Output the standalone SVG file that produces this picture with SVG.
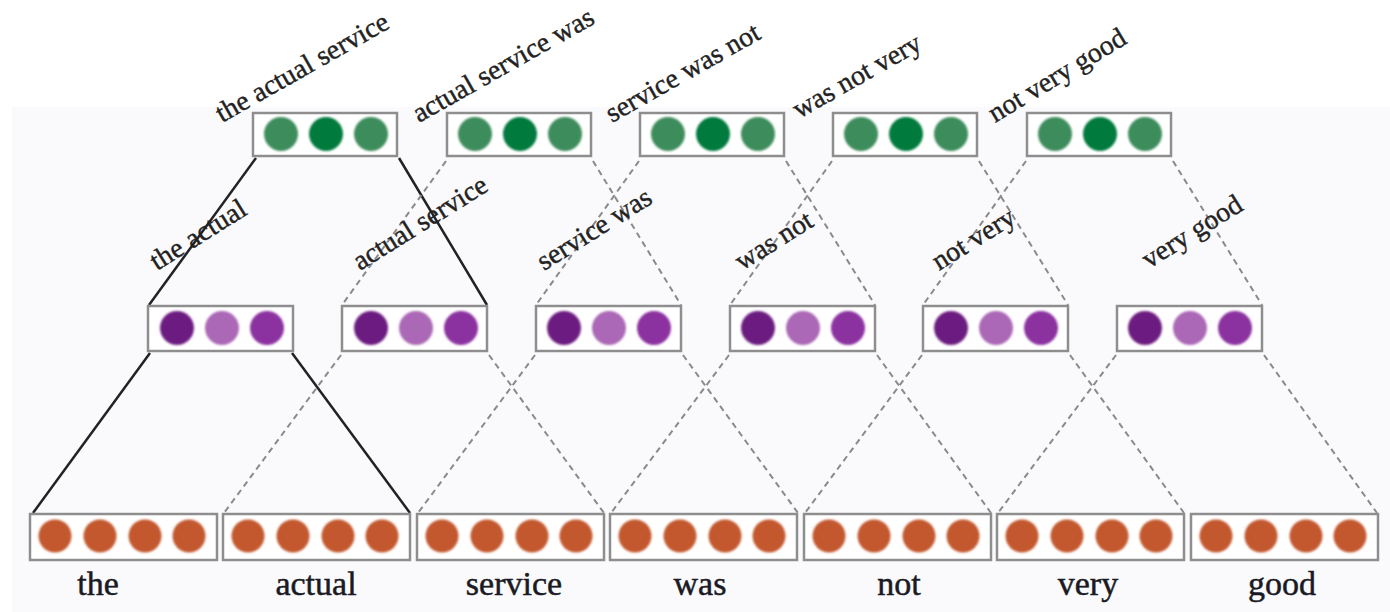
<svg xmlns="http://www.w3.org/2000/svg" width="1390" height="612" viewBox="0 0 1390 612">
<defs>
<style>
.box{fill:#ffffff;stroke:#8e8e8e;stroke-width:2.5}
.g1{fill:#3e8c5c}.g2{fill:#007a3e}
.p1{fill:#6c1f80}.p2{fill:#ab68b6}.p3{fill:#8b33a0}
.o{fill:#c3582f}
.solid{stroke:#222;stroke-width:2.5;fill:none}
.dash{stroke:#8a8a8a;stroke-width:2;stroke-dasharray:6 4.5;fill:none}
.lbl{font-family:"Liberation Serif",serif;font-size:28px;fill:#222;stroke:#222;stroke-width:0.4}
.word{font-family:"Liberation Serif",serif;font-size:34px;fill:#1a1a24;stroke:#1a1a24;stroke-width:0.5;text-anchor:middle}
</style>
<filter id="soft" x="-20%" y="-20%" width="140%" height="140%"><feGaussianBlur stdDeviation="0.8"/></filter>
</defs>
<rect x="0" y="0" width="1390" height="612" fill="#ffffff"/>
<rect x="12" y="107" width="1378" height="505" fill="#fafafc"/>

<g id="connectors">
<line class="solid" x1="256" y1="158" x2="149" y2="305"/>
<line class="solid" x1="399" y1="158" x2="487" y2="305"/>
<line class="dash" x1="446" y1="161" x2="342" y2="305"/>
<line class="dash" x1="593" y1="161" x2="681" y2="305"/>
<line class="dash" x1="639" y1="161" x2="536" y2="305"/>
<line class="dash" x1="786" y1="161" x2="875" y2="305"/>
<line class="dash" x1="832" y1="161" x2="730" y2="305"/>
<line class="dash" x1="979" y1="161" x2="1068" y2="305"/>
<line class="dash" x1="1026" y1="161" x2="923" y2="305"/>
<line class="dash" x1="1173" y1="161" x2="1262" y2="305"/>

<line class="solid" x1="150" y1="353" x2="33" y2="513"/>
<line class="solid" x1="292" y1="353" x2="410" y2="513"/>
<line class="dash" x1="341" y1="355" x2="224" y2="513"/>
<line class="dash" x1="489" y1="355" x2="604" y2="513"/>
<line class="dash" x1="535" y1="355" x2="418" y2="513"/>
<line class="dash" x1="683" y1="355" x2="798" y2="513"/>
<line class="dash" x1="729" y1="355" x2="611" y2="513"/>
<line class="dash" x1="877" y1="355" x2="991" y2="513"/>
<line class="dash" x1="922" y1="355" x2="805" y2="513"/>
<line class="dash" x1="1070" y1="355" x2="1184" y2="513"/>
<line class="dash" x1="1116" y1="355" x2="998" y2="513"/>
<line class="dash" x1="1264" y1="355" x2="1377" y2="513"/>
</g>

<!-- top row -->
<g id="t1"><rect class="box" x="253" y="113" width="144" height="43"/><g filter="url(#soft)"><circle class="g1" cx="281" cy="134" r="17"/><circle class="g2" cx="326" cy="134" r="17"/><circle class="g1" cx="371" cy="134" r="17"/></g><text class="lbl" transform="translate(222,123) rotate(-29.5)">the actual service</text></g>
<g id="t2"><rect class="box" x="447" y="113" width="144" height="43"/><g filter="url(#soft)"><circle class="g1" cx="475" cy="134" r="17"/><circle class="g2" cx="520" cy="134" r="17"/><circle class="g1" cx="565" cy="134" r="17"/></g><text class="lbl" transform="translate(419,123) rotate(-29.5)">actual service was</text></g>
<g id="t3"><rect class="box" x="640" y="113" width="144" height="43"/><g filter="url(#soft)"><circle class="g1" cx="668" cy="134" r="17"/><circle class="g2" cx="713" cy="134" r="17"/><circle class="g1" cx="758" cy="134" r="17"/></g><text class="lbl" transform="translate(612,123) rotate(-29.5)">service was not</text></g>
<g id="t4"><rect class="box" x="833" y="113" width="144" height="43"/><g filter="url(#soft)"><circle class="g1" cx="861" cy="134" r="17"/><circle class="g2" cx="906" cy="134" r="17"/><circle class="g1" cx="951" cy="134" r="17"/></g><text class="lbl" transform="translate(799,119) rotate(-29.5)">was not very</text></g>
<g id="t5"><rect class="box" x="1027" y="113" width="144" height="43"/><g filter="url(#soft)"><circle class="g1" cx="1055" cy="134" r="17"/><circle class="g2" cx="1100" cy="134" r="17"/><circle class="g1" cx="1145" cy="134" r="17"/></g><text class="lbl" transform="translate(995,123) rotate(-31)">not very good</text></g>

<!-- middle row -->
<g id="m1"><rect class="box" x="148" y="306" width="145" height="45"/><g filter="url(#soft)"><circle class="p1" cx="177" cy="328" r="17"/><circle class="p2" cx="222" cy="328" r="17"/><circle class="p3" cx="267" cy="328" r="17"/></g><text class="lbl" transform="translate(157,271) rotate(-32)">the actual</text></g>
<g id="m2"><rect class="box" x="342" y="306" width="145" height="45"/><g filter="url(#soft)"><circle class="p1" cx="371" cy="328" r="17"/><circle class="p2" cx="416" cy="328" r="17"/><circle class="p3" cx="461" cy="328" r="17"/></g><text class="lbl" transform="translate(360,271) rotate(-32)">actual service</text></g>
<g id="m3"><rect class="box" x="536" y="306" width="145" height="45"/><g filter="url(#soft)"><circle class="p1" cx="564" cy="328" r="17"/><circle class="p2" cx="609" cy="328" r="17"/><circle class="p3" cx="654" cy="328" r="17"/></g><text class="lbl" transform="translate(544,271) rotate(-32)">service was</text></g>
<g id="m4"><rect class="box" x="730" y="306" width="145" height="45"/><g filter="url(#soft)"><circle class="p1" cx="758" cy="328" r="17"/><circle class="p2" cx="803" cy="328" r="17"/><circle class="p3" cx="848" cy="328" r="17"/></g><text class="lbl" transform="translate(742,271) rotate(-32)">was not</text></g>
<g id="m5"><rect class="box" x="923" y="306" width="145" height="45"/><g filter="url(#soft)"><circle class="p1" cx="951" cy="328" r="17"/><circle class="p2" cx="996" cy="328" r="17"/><circle class="p3" cx="1041" cy="328" r="17"/></g><text class="lbl" transform="translate(939,271) rotate(-32)">not very</text></g>
<g id="m6"><rect class="box" x="1117" y="306" width="145" height="45"/><g filter="url(#soft)"><circle class="p1" cx="1145" cy="328" r="17"/><circle class="p2" cx="1190" cy="328" r="17"/><circle class="p3" cx="1235" cy="328" r="17"/></g><text class="lbl" transform="translate(1149,269) rotate(-32)">very good</text></g>

<!-- bottom row -->
<g id="b1"><rect class="box" x="30" y="514" width="187" height="46"/><g filter="url(#soft)"><circle class="o" cx="55" cy="536" r="16.5"/><circle class="o" cx="100" cy="536" r="16.5"/><circle class="o" cx="145" cy="536" r="16.5"/><circle class="o" cx="189" cy="536" r="16.5"/></g><text class="word" x="98" y="595">the</text></g>
<g id="b2"><rect class="box" x="223" y="514" width="187" height="46"/><g filter="url(#soft)"><circle class="o" cx="248" cy="536" r="16.5"/><circle class="o" cx="293" cy="536" r="16.5"/><circle class="o" cx="338" cy="536" r="16.5"/><circle class="o" cx="382" cy="536" r="16.5"/></g><text class="word" x="316" y="595">actual</text></g>
<g id="b3"><rect class="box" x="417" y="514" width="187" height="46"/><g filter="url(#soft)"><circle class="o" cx="442" cy="536" r="16.5"/><circle class="o" cx="487" cy="536" r="16.5"/><circle class="o" cx="532" cy="536" r="16.5"/><circle class="o" cx="576" cy="536" r="16.5"/></g><text class="word" x="514" y="595">service</text></g>
<g id="b4"><rect class="box" x="610" y="514" width="187" height="46"/><g filter="url(#soft)"><circle class="o" cx="635" cy="536" r="16.5"/><circle class="o" cx="680" cy="536" r="16.5"/><circle class="o" cx="725" cy="536" r="16.5"/><circle class="o" cx="769" cy="536" r="16.5"/></g><text class="word" x="700" y="595">was</text></g>
<g id="b5"><rect class="box" x="804" y="514" width="187" height="46"/><g filter="url(#soft)"><circle class="o" cx="829" cy="536" r="16.5"/><circle class="o" cx="874" cy="536" r="16.5"/><circle class="o" cx="919" cy="536" r="16.5"/><circle class="o" cx="963" cy="536" r="16.5"/></g><text class="word" x="899" y="595">not</text></g>
<g id="b6"><rect class="box" x="997" y="514" width="187" height="46"/><g filter="url(#soft)"><circle class="o" cx="1022" cy="536" r="16.5"/><circle class="o" cx="1067" cy="536" r="16.5"/><circle class="o" cx="1112" cy="536" r="16.5"/><circle class="o" cx="1156" cy="536" r="16.5"/></g><text class="word" x="1088" y="595">very</text></g>
<g id="b7"><rect class="box" x="1191" y="514" width="187" height="46"/><g filter="url(#soft)"><circle class="o" cx="1216" cy="536" r="16.5"/><circle class="o" cx="1261" cy="536" r="16.5"/><circle class="o" cx="1306" cy="536" r="16.5"/><circle class="o" cx="1350" cy="536" r="16.5"/></g><text class="word" x="1282" y="595">good</text></g>
</svg>
